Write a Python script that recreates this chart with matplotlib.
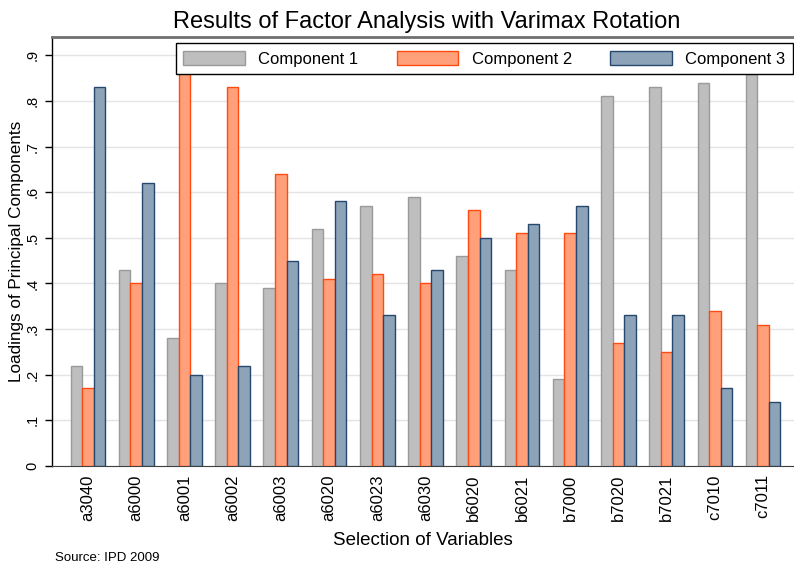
import matplotlib.pyplot as plt
import numpy as np

plt.rcParams['font.family'] = ['Liberation Sans', 'DejaVu Sans']

variables = ['a3040', 'a6000', 'a6001', 'a6002', 'a6003', 'a6020', 'a6023',
             'a6030', 'b6020', 'b6021', 'b7000', 'b7020', 'b7021', 'c7010', 'c7011']
comp1 = [0.22, 0.43, 0.28, 0.40, 0.39, 0.52, 0.57, 0.59, 0.46, 0.43, 0.19, 0.81, 0.83, 0.84, 0.86]
comp2 = [0.17, 0.40, 0.87, 0.83, 0.64, 0.41, 0.42, 0.40, 0.56, 0.51, 0.51, 0.27, 0.25, 0.34, 0.31]
comp3 = [0.83, 0.62, 0.20, 0.22, 0.45, 0.58, 0.33, 0.43, 0.50, 0.53, 0.57, 0.33, 0.33, 0.17, 0.14]
yticks = [0, .1, .2, .3, .4, .5, .6, .7, .8, .9]
ytick_labels = ['0', '.1', '.2', '.3', '.4', '.5', '.6', '.7', '.8', '.9']

fig = plt.figure(figsize=(7.94, 5.66), dpi=100)
ax = fig.add_axes([52 / 794, 100 / 566, 1 - 52 / 794, 429 / 566])

x = np.arange(len(variables))
w = 0.24
ax.bar(x - w, comp1, w, color='#bebebe', edgecolor='#9a9a9a', linewidth=1, label='Component 1', zorder=3)
ax.bar(x, comp2, w, color='#ffa07a', edgecolor='#ff4a12', linewidth=1, label='Component 2', zorder=3)
ax.bar(x + w, comp3, w, color='#8ca3b8', edgecolor='#27486e', linewidth=1, label='Component 3', zorder=3)

ax.set_xlim(-0.745, 14.64)
ax.set_ylim(0, 0.94)
ax.set_yticks(yticks)
ax.set_yticklabels(ytick_labels, rotation=90, va='center', fontsize=10.5)
ax.set_xticks(x)
ax.set_xticklabels(variables, rotation=90, fontsize=12)
ax.tick_params(axis='x', length=0, pad=6)
ax.tick_params(axis='y', length=5, width=1, pad=4)
ax.grid(axis='y', color='#e4e4e4', linewidth=1, zorder=0)

ax.spines['right'].set_visible(False)
ax.spines['top'].set_color('#707070')
ax.spines['top'].set_linewidth(2)
ax.spines['left'].set_linewidth(1)
ax.spines['bottom'].set_color('#404040')

ax.set_xlabel('Selection of Variables', fontsize=13.5, labelpad=8)
ax.set_ylabel('Loadings of Principal Components', fontsize=12.3, labelpad=1)
fig.text(0.538, 0.962, 'Results of Factor Analysis with Varimax Rotation',
         ha='center', va='center', fontsize=17)
fig.text(55 / 794, 2 / 566, 'Source: IPD 2009', fontsize=9.5, va='bottom')

leg = ax.legend(loc='upper right', ncol=3, fontsize=12,
                frameon=True, fancybox=False, edgecolor='black', framealpha=1,
                handlelength=3.7, handleheight=1.0, columnspacing=2.3,
                handletextpad=0.8, borderpad=0.45, borderaxespad=0)
leg.get_frame().set_linewidth(1)
leg.set_zorder(5)
leg.set_bbox_to_anchor((793 / 794, 523 / 566), transform=fig.transFigure)

fig.savefig('out.png', dpi=100)
